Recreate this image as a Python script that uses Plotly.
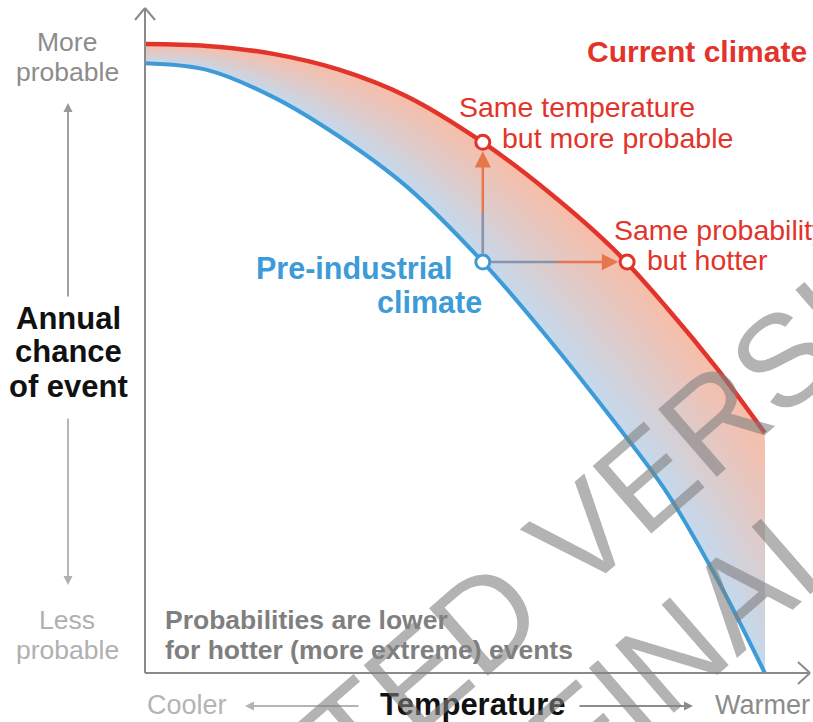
import plotly.graph_objects as go

# --- data (arbitrary units: temperature 0-10, chance 0-10) ---
temp = [0, 0.93, 1.93, 2.93, 3.94, 5.08, 6.05, 7.04, 7.85, 8.6, 9.32]
chance_current = [9.46, 9.43, 9.31, 9.07, 8.67, 7.98, 7.25, 6.38, 5.49, 4.58, 3.61]
chance_preind = [9.17, 9.07, 8.66, 8.06, 7.31, 6.18, 5.05, 3.80, 2.71, 1.42, 0.0]

# example event: pre-industrial point, same-temperature point, same-probability point
pt_pre = (5.08, 6.18)
pt_same_temp = (5.08, 7.98)
pt_same_prob = (7.25, 6.18)

RED = "#e2342a"
BLUE = "#3d9bd8"
FILL_RED = (247, 190, 170)
FILL_BLUE = (194, 218, 239)
FONT = "Liberation Sans, Arial, sans-serif"

FW, FH = 813, 722
L, R, T, B = 145, 3, 8, 49
W, H = FW - L - R, FH - T - B


def px(xp, yp):
    # pixel position in the picture -> plot-area domain coords
    return (xp - L) / W, (FH - B - yp) / H


fig = go.Figure()

# gradient band between the two curves (painted from red side to blue side)
n = 28
for k in range(n, 0, -1):
    f = k / n
    upper = [b + f * (r - b) for r, b in zip(chance_current, chance_preind)]
    c = tuple(round(FILL_BLUE[i] + f * (FILL_RED[i] - FILL_BLUE[i])) for i in range(3))
    fig.add_trace(go.Scatter(x=temp, y=chance_preind, mode="lines",
                             line=dict(width=0, shape="spline"), hoverinfo="skip"))
    fig.add_trace(go.Scatter(x=temp, y=upper, mode="lines", fill="tonexty",
                             fillcolor="rgb(%d,%d,%d)" % c,
                             line=dict(width=0, shape="spline"), hoverinfo="skip"))

# curves
fig.add_trace(go.Scatter(x=temp, y=chance_preind, mode="lines",
                         line=dict(color=BLUE, width=4, shape="spline")))
fig.add_trace(go.Scatter(x=temp, y=chance_current, mode="lines",
                         line=dict(color=RED, width=4.5, shape="spline")))

# arrows (orange head, bluish tail)
for tip in (pt_same_temp, pt_same_prob):
    fig.add_annotation(x=tip[0], y=tip[1], ax=pt_pre[0], ay=pt_pre[1],
                       xref="x", yref="y", axref="x", ayref="y", text="",
                       showarrow=True, arrowhead=2, arrowsize=1.3, arrowwidth=2.5,
                       arrowcolor="#e8764c", standoff=9, startstandoff=7)
    fig.add_annotation(x=tip[0], y=tip[1], ax=pt_pre[0], ay=pt_pre[1],
                       xref="x", yref="y", axref="x", ayref="y", text="",
                       showarrow=True, arrowhead=0, arrowwidth=2,
                       arrowcolor="#6f9bc9", standoff=70, startstandoff=7)

# markers
fig.add_trace(go.Scatter(x=[pt_pre[0]], y=[pt_pre[1]], mode="markers",
                         marker=dict(size=14, color="white", line=dict(color=BLUE, width=3))))
fig.add_trace(go.Scatter(x=[pt_same_temp[0], pt_same_prob[0]],
                         y=[pt_same_temp[1], pt_same_prob[1]], mode="markers",
                         marker=dict(size=14, color="white", line=dict(color=RED, width=3))))

# axes with chevron heads
ax_col = "#8a8a8a"
shapes = [
    dict(type="line", xref="paper", yref="paper", x0=0, y0=0, x1=0, y1=1,
         line=dict(color=ax_col, width=2)),
    dict(type="line", xref="paper", yref="paper", x0=0, y0=0, x1=1, y1=0,
         line=dict(color=ax_col, width=2)),
]
for a, b in [((135, 20), (145, 8)), ((155, 20), (145, 8)),
             ((798, 662), (810, 673)), ((798, 684), (810, 673))]:
    x0, y0 = px(*a)
    x1, y1 = px(*b)
    shapes.append(dict(type="line", xref="paper", yref="paper", x0=x0, y0=y0, x1=x1, y1=y1,
                       line=dict(color=ax_col, width=2)))
fig.update_layout(shapes=shapes)


def label(text, xp, yp, size, color, bold=False, xanchor="center"):
    x, y = px(xp, yp)
    fig.add_annotation(x=x, y=y, xref="paper", yref="paper", text=text, showarrow=False,
                       xanchor=xanchor, yanchor="middle",
                       font=dict(family=FONT, size=size, color=color,
                                 weight="bold" if bold else "normal"))


def arrow(x_tail, y_tail, x_tip, y_tip, color):
    x0, y0 = px(x_tail, y_tail)
    x1, y1 = px(x_tip, y_tip)
    fig.add_annotation(x=x1, y=y1, ax=x0, ay=y0, xref="x domain", yref="y domain",
                       axref="x domain", ayref="y domain", text="", showarrow=True,
                       arrowhead=2, arrowsize=1, arrowwidth=1.8, arrowcolor=color)


# y-axis labels
label("More", 67, 42, 26.5, "#8c8c8c")
label("probable", 67, 72, 26.5, "#8c8c8c")
arrow(68, 298, 68, 103, "#999999")
label("Annual", 68, 318, 31, "#111111", bold=True)
label("chance", 68, 352, 31, "#111111", bold=True)
label("of event", 68, 386, 31, "#111111", bold=True)
arrow(68, 417, 68, 585, "#b0b0b0")
label("Less", 67, 620, 26.5, "#b0b0b0")
label("probable", 67, 650, 26.5, "#b0b0b0")

# x-axis labels
label("Cooler", 187, 705, 27, "#b4b4b4")
arrow(360, 706, 245, 706, "#b4b4b4")
label("Temperature", 473, 704, 31, "#111111", bold=True)
arrow(578, 706, 693, 706, "#8c8c8c")
label("Warmer", 762, 705, 27, "#8c8c8c")

# in-plot notes
label("Probabilities are lower", 163, 620, 26.5, "#7f7f7f", bold=True, xanchor="left")
label("for hotter (more extreme) events", 163, 650, 26.5, "#7f7f7f", bold=True, xanchor="left")
label("Current climate", 697, 52, 30, RED, bold=True)
label("Same temperature", 457, 107, 28.5, RED, xanchor="left")
label("but more probable", 500, 138, 28.5, RED, xanchor="left")
label("Same probability", 612, 230, 28.5, RED, xanchor="left")
label("but hotter", 645, 260, 28.5, RED, xanchor="left")
label("Pre-industrial", 455, 268, 30.5, BLUE, bold=True, xanchor="right")
label("climate", 484, 302, 30.5, BLUE, bold=True, xanchor="right")

# watermark
for text, (xp, yp) in [("ACCEPTED VERSION", (488, 616)), ("SUBJECT TO FINAL EDITS", (528, 780))]:
    x, y = px(xp, yp)
    fig.add_annotation(x=x, y=y, xref="paper", yref="paper", text=text, showarrow=False,
                       textangle=-41, xanchor="center", yanchor="middle",
                       font=dict(family=FONT, size=130, color="rgba(128,128,128,0.6)"))

fig.update_layout(
    width=FW, height=FH,
    margin=dict(l=L, r=R, t=T, b=B),
    paper_bgcolor="white", plot_bgcolor="white",
    showlegend=False,
    xaxis=dict(range=[0, 10], visible=False, fixedrange=True),
    yaxis=dict(range=[0, 10], visible=False, fixedrange=True),
)

# drop the default page margin so the figure sits at the window corner
fig.write_html("out.html", config={"displayModeBar": False},
               post_script="document.body.style.margin='0';document.body.style.overflow='hidden';")
